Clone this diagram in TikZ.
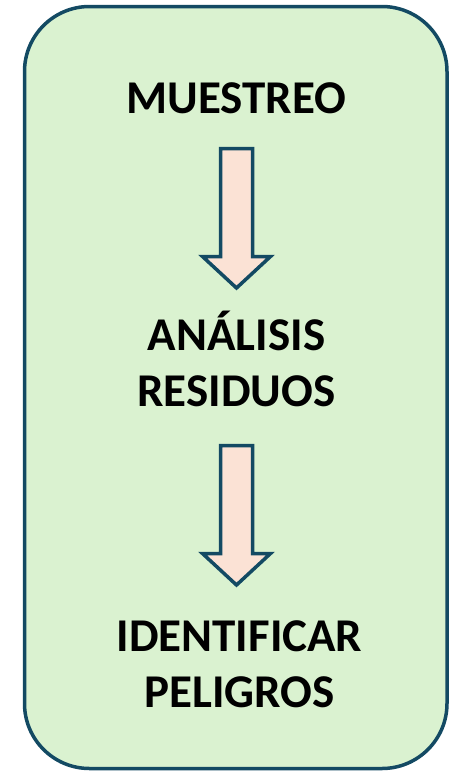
\documentclass[tikz,border=0pt]{standalone}
\usepackage{fontspec}
\setmainfont{Carlito}
\definecolor{boxgreen}{HTML}{DAF2D0}
\definecolor{boxline}{HTML}{134A63}
\definecolor{arrowpink}{HTML}{FBE2D5}
\tikzset{
  steptext/.style={font=\bfseries\fontsize{47}{56}\selectfont, align=center, anchor=base, inner sep=0pt},
  blockdown/.pic={
    \draw[boxline, line width=3.5pt, fill=arrowpink, line join=miter]
      (-16,0) -- (16,0) -- (16,108) -- (34,108) -- (0,139.5) -- (-34,108) -- (-16,108) -- cycle;
  }
}

\begin{document}
\begin{tikzpicture}[x=1pt, y=-1pt]
  \useasboundingbox (0,0) rectangle (461,771);
  \draw[boxline, line width=3.5pt, fill=boxgreen, rounded corners=65pt] (24.5,6.5) rectangle (447,768.5);
  \node[steptext] (muestreo) at (236.5,113) {MUESTREO};
  \coordinate (arrowA) at (236.5,148.5);
  \pic at (arrowA) {blockdown};
  % base anchor sits on the last line
  \node[steptext] (analisis) at (236.5,406) {ANÁLISIS\\RESIDUOS};
  \coordinate (arrowB) at (236.5,445.5);
  \pic at (arrowB) {blockdown};
  \node[steptext] (peligros) at (239.5,707) {IDENTIFICAR\\PELIGROS};
\end{tikzpicture}
\end{document}
